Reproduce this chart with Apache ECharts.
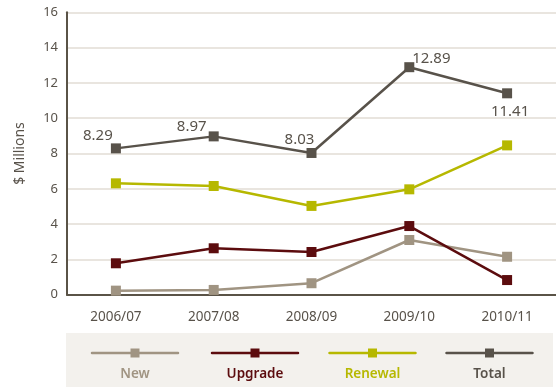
<!DOCTYPE html>
<html>
<head>
<meta charset="utf-8">
<script src="https://cdn.jsdelivr.net/npm/echarts@6/dist/echarts.min.js"></script>
<style>
  html, body { margin: 0; padding: 0; background: #ffffff; }
  #chart { width: 556px; height: 387px; }
</style>
</head>
<body>
<div id="chart"></div>
<script>
// Capital spending by programme, $ millions per financial year
var years = ['2006/07', '2007/08', '2008/09', '2009/10', '2010/11'];
var newWorks = [0.23, 0.27, 0.65, 3.10, 2.15];
var upgrade = [1.78, 2.63, 2.42, 3.89, 0.83];
var renewal = [6.31, 6.16, 5.03, 5.97, 8.46];
var total = [8.29, 8.97, 8.03, 12.89, 11.41];
var yTicks = [0, 2, 4, 6, 8, 10, 12, 14, 16];

var colors = {
  New: '#a09482',
  Upgrade: '#5c0c0e',
  Renewal: '#b6b800',
  Total: '#58524a'
};
var FONT = '"Noto Sans", "Open Sans", sans-serif';

// per-point label offsets for the Total series
var totalLabelOffsets = [[-18, 5], [-22, 8], [-12, 4], [22, 9], [3, 36]];

function lineSeries(name, data) {
  return {
    name: name,
    type: 'line',
    data: data,
    symbol: 'rect',
    symbolSize: 10,
    lineStyle: { width: 2.5, color: colors[name] },
    itemStyle: { color: colors[name] },
    z: 3
  };
}

var totalSeries = lineSeries('Total', total.map(function (v, i) {
  return {
    value: v,
    label: {
      show: true,
      position: 'top',
      offset: totalLabelOffsets[i],
      formatter: v.toFixed(2),
      color: '#58524a',
      fontSize: 15,
      fontFamily: FONT
    }
  };
}));

var legendItems = ['New', 'Upgrade', 'Renewal', 'Total'];
var legendCenters = [135, 255, 372.5, 489.5];
var legendGraphics = [{
  type: 'rect',
  shape: { x: 66, y: 333, width: 487, height: 54 },
  style: { fill: '#f3f1ed' },
  z: 0
}];
legendItems.forEach(function (name, i) {
  var cx = legendCenters[i];
  legendGraphics.push({
    type: 'line',
    shape: { x1: cx - 43, y1: 353, x2: cx + 43, y2: 353 },
    style: { stroke: colors[name], lineWidth: 2.5, lineCap: 'round' },
    z: 1
  });
  legendGraphics.push({
    type: 'rect',
    shape: { x: cx - 4.5, y: 348.5, width: 9, height: 9 },
    style: { fill: colors[name] },
    z: 2
  });
  legendGraphics.push({
    type: 'text',
    x: cx,
    y: 374,
    style: {
      text: name,
      fill: colors[name],
      font: '600 13.5px ' + FONT,
      align: 'center',
      verticalAlign: 'middle'
    },
    z: 2
  });
});

var chart = echarts.init(document.getElementById('chart'), null, { renderer: 'canvas' });
chart.setOption({
  animation: false,
  backgroundColor: '#ffffff',
  grid: { left: 67, right: 0, top: 12.3, bottom: 92.3 },
  xAxis: {
    type: 'category',
    data: years,
    boundaryGap: true,
    axisLine: { lineStyle: { color: '#5a5347', width: 2 } },
    axisTick: { show: false },
    axisLabel: { color: '#58524a', fontSize: 13.5, fontFamily: FONT, margin: 15 }
  },
  yAxis: {
    type: 'value',
    min: yTicks[0],
    max: yTicks[yTicks.length - 1],
    interval: 2,
    name: '$ Millions',
    nameLocation: 'middle',
    nameGap: 40,
    nameRotate: 90,
    nameTextStyle: { color: '#58524a', fontSize: 14, fontFamily: FONT },
    axisLine: { show: true, lineStyle: { color: '#5a5347', width: 2 } },
    axisTick: { show: false },
    axisLabel: { color: '#58524a', fontSize: 13, fontFamily: FONT, margin: 9 },
    splitLine: { lineStyle: { color: '#e9e5df', width: 2 } }
  },
  series: [
    lineSeries('New', newWorks),
    lineSeries('Upgrade', upgrade),
    lineSeries('Renewal', renewal),
    totalSeries
  ],
  graphic: legendGraphics
});
</script>
</body>
</html>
